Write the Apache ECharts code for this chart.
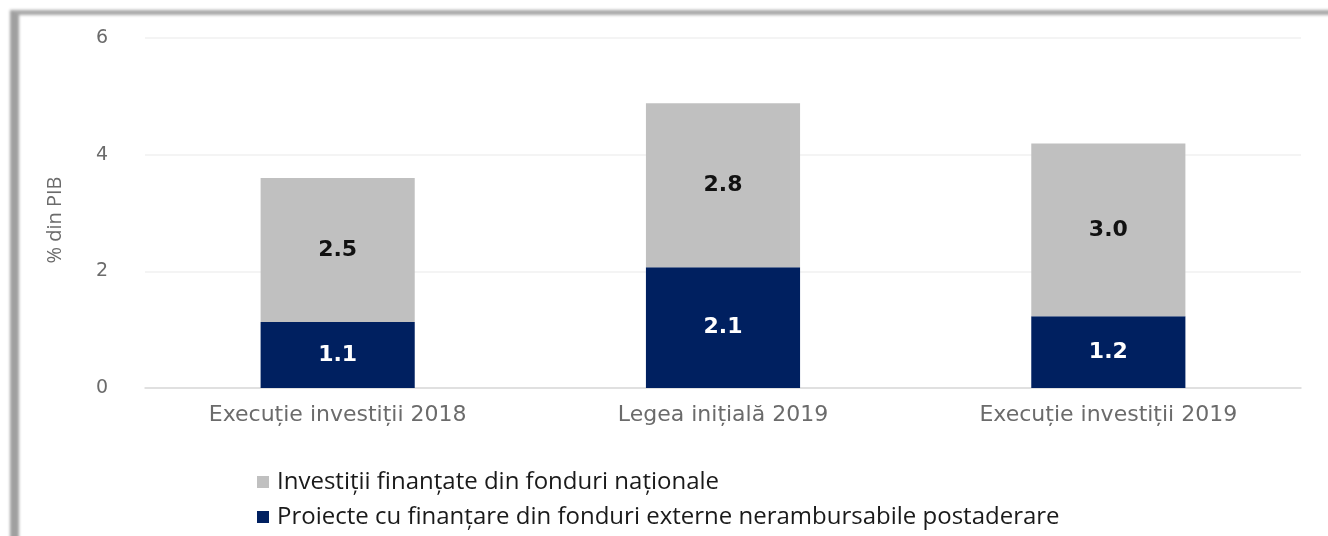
<!DOCTYPE html>
<html><head><meta charset="utf-8">
<script src="https://cdn.jsdelivr.net/npm/echarts@6/dist/echarts.min.js"></script>
<style>
html,body{margin:0;padding:0;background:#fff;width:1328px;height:536px;overflow:hidden;}
#frame{position:absolute;left:10px;top:10px;width:1340px;height:560px;border-top:5px solid #a8a8a8;border-left:9px solid #a0a0a0;filter:blur(1.5px);}
#chart{position:absolute;left:0;top:0;width:1328px;height:536px;}
</style></head>
<body>
<div id="frame"></div>
<div id="chart"></div>
<script>
const categories = ['Execuție investiții 2018', 'Legea inițială 2019', 'Execuție investiții 2019'];
const externalFunds = [1.13, 2.07, 1.23];
const nationalFunds = [2.47, 2.81, 2.96];
const seriesNames = ['Investiții finanțate din fonduri naționale', 'Proiecte cu finanțare din fonduri externe nerambursabile postaderare'];
const yTicks = [0, 2, 4, 6];

const chart = echarts.init(document.getElementById('chart'));
chart.setOption({
  backgroundColor: 'transparent',
  animation: false,
  grid: {left: 145, right: 27, top: 38, bottom: 148},
  legend: {
    orient: 'vertical', left: 257, top: 470, itemGap: 11, padding: 0,
    itemWidth: 12, itemHeight: 12, icon: 'rect',
    data: [seriesNames[0], seriesNames[1]],
    textStyle: {fontFamily: 'Open Sans', fontSize: 24, lineHeight: 24, color: '#1a1a1a', padding: [0,0,0,3]}
  },
  xAxis: {
    type: 'category', data: categories,
    axisLine: {lineStyle: {color: '#d9d9d9', width: 1.5}},
    axisTick: {show: false},
    axisLabel: {fontFamily: 'DejaVu Sans', fontSize: 22, color: '#6b6b6b', margin: 16}
  },
  yAxis: {
    type: 'value', min: yTicks[0], max: yTicks[yTicks.length-1], interval: 2,
    name: '% din PIB', nameLocation: 'middle', nameGap: 80, nameRotate: 90,
    nameTextStyle: {fontFamily: 'Open Sans', fontSize: 20, color: '#6b6b6b', padding: [0, 14, 0, 0]},
    axisLine: {show: false}, axisTick: {show: false},
    axisLabel: {fontFamily: 'DejaVu Sans', fontSize: 19, color: '#6b6b6b', margin: 37},
    splitLine: {lineStyle: {color: '#f0f0f0', width: 1.5}}
  },
  series: [
    {
      name: seriesNames[1], type: 'bar', stack: 'a', data: externalFunds,
      barWidth: '40%', itemStyle: {color: '#002060'},
      label: {show: true, position: 'inside', color: '#fff', fontFamily: 'DejaVu Sans', fontWeight: 'bold', fontSize: 22,
        formatter: p => p.value.toFixed(1)}
    },
    {
      name: seriesNames[0], type: 'bar', stack: 'a', data: nationalFunds,
      barWidth: '40%', itemStyle: {color: '#c0c0c0'},
      label: {show: true, position: 'inside', color: '#111', fontFamily: 'DejaVu Sans', fontWeight: 'bold', fontSize: 22,
        formatter: p => p.value.toFixed(1)}
    }
  ]
});
</script>
</body></html>
